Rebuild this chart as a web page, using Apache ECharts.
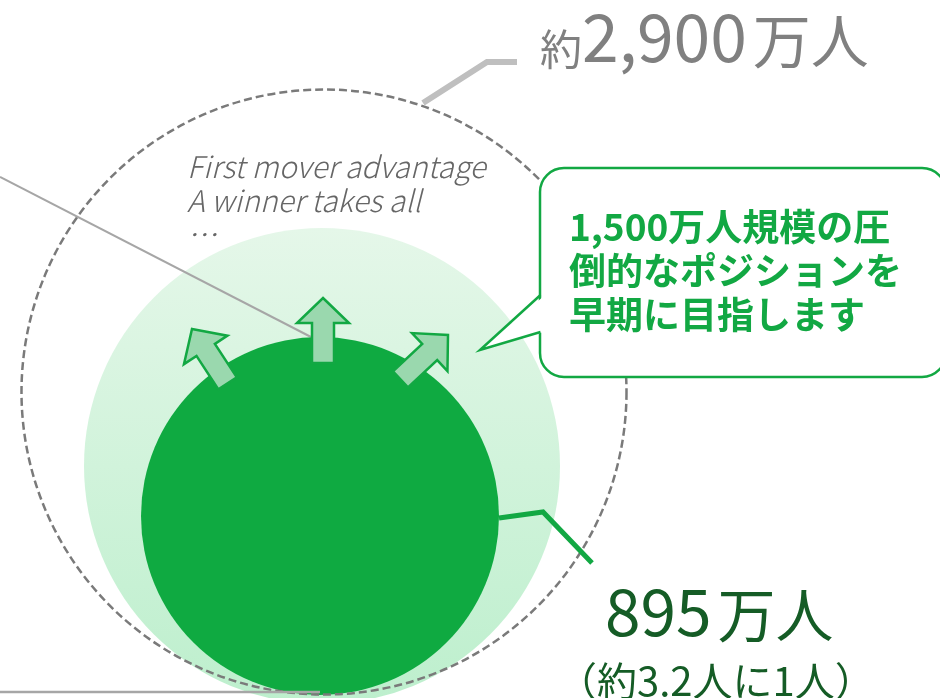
<!DOCTYPE html>
<html>
<head>
<meta charset="utf-8">
<script src="https://cdn.jsdelivr.net/npm/echarts@6/dist/echarts.min.js"></script>
<style>
  html, body { margin: 0; padding: 0; background: #fff; }
  #chart { width: 940px; height: 698px; }
</style>
</head>
<body>
<div id="chart"></div>
<script>
// users in 万人: whole market, target, current
const groups = ['市場全体', '目標', '現在'];
const users = [2900, 1500, 895];
const slogans = ['First mover advantage', 'A winner takes all', '…'];
const goalLines = ['1,500万人規模の圧', '倒的なポジションを', '早期に目指します'];
const shareLabel = '（約3.2人に1人）';

const fmt = v => v.toLocaleString('en-US');

// circle layout on a pixel-sized hidden axis (center x, center y, diameter)
const circleLayout = [
  [324, 392, 605],
  [322, 466, 476],
  [320, 516, 358]
];

const chart = echarts.init(document.getElementById('chart'));

const green = '#12a843';
const arrowPts = [[0, 0], [26, 25], [11, 25], [11, 65], [-11, 65], [-11, 25], [-26, 25]];
function arrow(x, y, rot) {
  return {
    type: 'polygon', x: x, y: y, rotation: rot, z: 20,
    shape: { points: arrowPts },
    style: { fill: '#9ad8ae', stroke: green, lineWidth: 2.5 }
  };
}

const circleSeries = groups.map((g, i) => {
  const style = [
    { color: 'rgba(0,0,0,0)', borderColor: '#7a7a7a', borderWidth: 2.5, borderType: [8, 4] },
    { color: new echarts.graphic.LinearGradient(0, 0, 0, 1, [
        { offset: 0, color: '#e5f7e9' }, { offset: 1, color: '#bdefcd' }]) },
    { color: '#0faa41' }
  ][i];
  style.opacity = 1;
  return {
    name: g,
    type: 'scatter',
    silent: true,
    z: [12, 2, 8][i],
    symbol: 'circle',
    symbolSize: circleLayout[i][2],
    itemStyle: style,
    data: [{ value: [circleLayout[i][0], circleLayout[i][1]], users: users[i] }]
  };
});

chart.setOption({
  animation: false,
  grid: { left: 0, right: 0, top: 0, bottom: 0 },
  xAxis: { type: 'value', min: 0, max: 940, show: false },
  yAxis: { type: 'value', min: 0, max: 698, inverse: true, show: false },
  series: circleSeries,
  graphic: [
    // leader line from the left
    { type: 'polyline', z: 5, shape: { points: [[0, 177], [311, 337]] },
      style: { stroke: '#a6a6a6', lineWidth: 2 } },
    { type: 'polyline', z: 14, shape: { points: [[0, 692], [320, 692]] },
      style: { stroke: '#a6a6a6', lineWidth: 2.5 } },
    // arrows
    arrow(323, 298, 0),
    arrow(192, 329, 0.58),
    arrow(448, 335, -0.82),
    // slogan
    ...slogans.map((s, i) => ({
      type: 'text', x: 187, y: 167 + i * 34, z: 15,
      style: { text: s, fill: '#666', font: 'italic 300 30px "Noto Sans CJK JP"', verticalAlign: 'middle' }
    })),
    // market size label
    { type: 'polyline', z: 15, shape: { points: [[423, 103], [487, 62], [517, 62]] },
      style: { stroke: '#bfbfbf', lineWidth: 6 } },
    { type: 'text', x: 540, y: 70, z: 15,
      style: {
        text: '{a|約}{b|' + fmt(users[0]) + '}{c|万人}',
        verticalAlign: 'bottom',
        rich: {
          a: { fontSize: 42, fill: '#808080', fontFamily: 'Noto Sans CJK JP', verticalAlign: 'bottom', lineHeight: 50 },
          b: { fontSize: 66, fill: '#808080', fontFamily: 'Noto Sans CJK JP', verticalAlign: 'bottom', lineHeight: 72 },
          c: { fontSize: 58, fill: '#808080', fontFamily: 'Noto Sans CJK JP', verticalAlign: 'bottom', lineHeight: 66, padding: [0, 0, 0, 6] }
        }
      } },
    // callout box
    { type: 'rect', z: 16,
      shape: { x: 540, y: 168, width: 406, height: 209, r: 24 },
      style: { fill: '#fff', stroke: green, lineWidth: 2.5 } },
    { type: 'polygon', z: 17,
      shape: { points: [[544, 296], [480, 350], [544, 332]] },
      style: { fill: '#fff' } },
    { type: 'polyline', z: 17,
      shape: { points: [[540.5, 295], [480, 350], [540.5, 332]] },
      style: { stroke: green, lineWidth: 2.5 } },
    ...goalLines.map((s, i) => ({
      type: 'text', x: 569, y: 227 + i * 44, z: 18,
      style: { text: s, fill: green, font: 'bold 37px "Noto Sans CJK JP"', verticalAlign: 'middle' }
    })),
    // current users label
    { type: 'polyline', z: 15, shape: { points: [[499, 518], [543, 512], [592, 563]] },
      style: { stroke: green, lineWidth: 5 } },
    { type: 'text', x: 605, y: 644, z: 15,
      style: {
        text: '{b|' + users[2] + '}{c|万人}',
        verticalAlign: 'bottom',
        rich: {
          b: { fontSize: 64, fill: '#155c26', fontFamily: 'Noto Sans CJK JP', verticalAlign: 'bottom', lineHeight: 70 },
          c: { fontSize: 58, fill: '#155c26', fontFamily: 'Noto Sans CJK JP', verticalAlign: 'bottom', lineHeight: 66, padding: [0, 0, 0, 6] }
        }
      } },
    { type: 'text', x: 557, y: 681, z: 15,
      style: { text: shareLabel, fill: '#155c26', font: '40px "Noto Sans CJK JP"', verticalAlign: 'middle' } }
  ]
});
</script>
</body>
</html>
